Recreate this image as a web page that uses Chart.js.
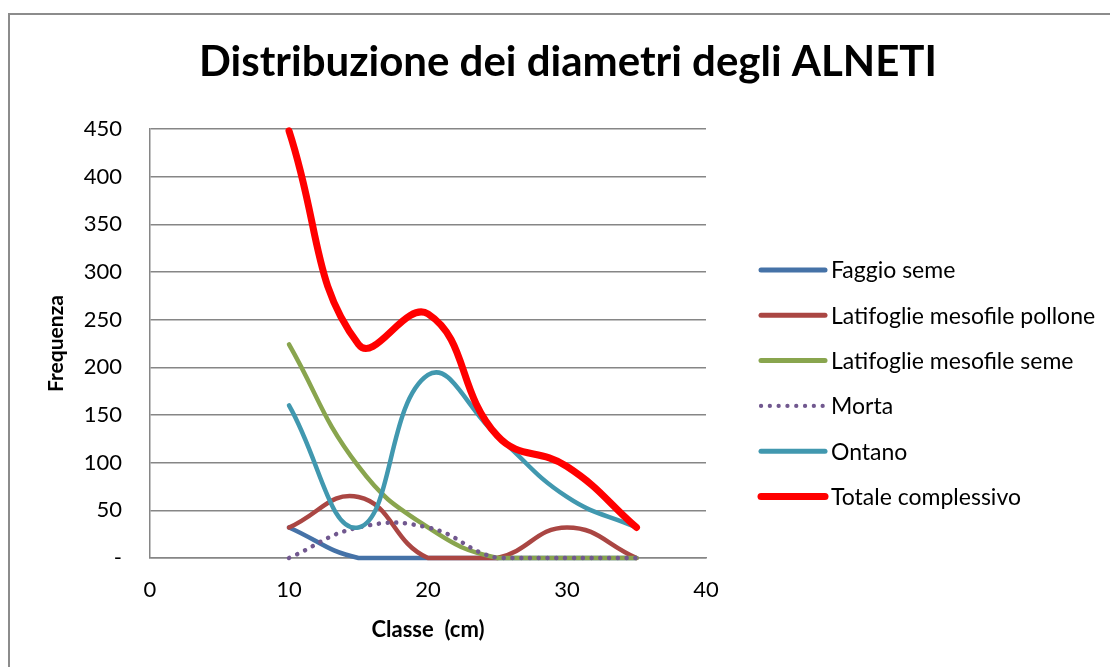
<!DOCTYPE html>
<html>
<head>
<meta charset="utf-8">
<script src="https://cdn.jsdelivr.net/npm/chart.js@4.4.1/dist/chart.umd.min.js"></script>
<style>
  html, body { margin: 0; padding: 0; background: #fff; overflow: hidden; }
  #wrap { position: relative; width: 1110px; height: 667px; }
  #frame { position: absolute; left: 8px; top: 13px; width: 1200px; height: 800px; border: 2px solid #8c8c8c; box-sizing: border-box; }
  canvas { position: absolute; left: 0; top: 0; }
</style>
</head>
<body>
<div id="wrap">
  <div id="frame"></div>
  <canvas id="myChart" width="1110" height="667"></canvas>
</div>
<script>
// classi di diametro (cm)
const classi = [10, 15, 20, 25, 30, 35];

const faggioSeme = [32, 0, 0, 0, 0, 0];
const latPollone = [32, 64, 0, 0, 32, 0];
const latSeme = [224, 96, 32, 0, 0, 0];
const morta = [0, 32, 32, 0, 0, 0];
const ontano = [160, 32, 192, 128, 64, 32];
const totale = [448, 224, 256, 128, 96, 32];

const seriesNames = ["Faggio seme", "Latifoglie mesofile pollone", "Latifoglie mesofile seme", "Morta", "Ontano", "Totale complessivo"];
const yTicks = [0, 50, 100, 150, 200, 250, 300, 350, 400, 450];
const titolo = "Distribuzione dei diametri degli ALNETI";

const FONT = "Lato, 'Open Sans', sans-serif";

function pts(vals) {
  return vals.map((v, k) => ({ x: classi[k], y: v }));
}

function line(idx, vals, color, width, dash) {
  return {
    label: seriesNames[idx],
    data: pts(vals),
    borderColor: color,
    backgroundColor: color,
    borderWidth: width,
    borderDash: dash || [],
    borderCapStyle: "round",
    borderJoinStyle: "round",
    pointRadius: 0,
    tension: 0.45,
    fill: false,
    clip: 10,
    order: 6 - idx
  };
}

// titolo e legenda disegnati come in Excel
const legendaExcel = {
  id: "legendaExcel",
  afterDraw(chart) {
    const ctx = chart.ctx;
    ctx.save();
    ctx.fillStyle = "#000";
    ctx.font = "bold 42px " + FONT;
    ctx.textAlign = "center";
    ctx.textBaseline = "middle";
    ctx.fillText(titolo, 568, 62);

    chart.data.datasets.forEach((ds, i) => {
      const y = 270 + i * 45.3;
      ctx.beginPath();
      ctx.strokeStyle = ds.borderColor;
      ctx.lineWidth = i == 5 ? 7 : (i == 3 ? 4.2 : 5);
      ctx.lineCap = "round";
      ctx.setLineDash(i == 3 ? [0.1, 8.7] : []);
      ctx.moveTo(761, y);
      ctx.lineTo(825, y);
      ctx.stroke();
      ctx.setLineDash([]);
      ctx.fillStyle = "#000";
      ctx.font = "23px " + FONT;
      ctx.textBaseline = "middle";
      ctx.textAlign = "left";
      ctx.fillText(ds.label, 831, y + 1);
    });
    ctx.restore();
  }
};

new Chart(document.getElementById("myChart"), {
  type: "line",
  data: {
    datasets: [
      line(0, faggioSeme, "#4572A7", 4.5),
      line(1, latPollone, "#AA4643", 4.5),
      line(2, latSeme, "#89A54E", 4.5),
      line(3, morta, "#71588F", 4.5, [0.1, 8.7]),
      line(4, ontano, "#4198AF", 4.5),
      line(5, totale, "#FF0000", 7)
    ]
  },
  plugins: [legendaExcel],
  options: {
    responsive: false,
    animation: false,
    layout: { padding: { left: 44, right: 404, top: 129, bottom: 20 } },
    plugins: {
      legend: { display: false },
      tooltip: { enabled: false },
      title: { display: false }
    },
    scales: {
      x: {
        type: "linear",
        min: 0,
        max: 40,
        ticks: { stepSize: 10, color: "#000", font: { family: FONT, size: 22 }, padding: 19 },
        grid: { display: false, drawTicks: false },
        border: { display: true, color: "#868686", width: 1.5 },
        title: { display: true, text: "Classe  (cm)", color: "#000", font: { family: FONT, size: 22, weight: "bold" }, padding: { top: 10, bottom: 4 } },
        afterFit(scale) { scale.height = 89; }
      },
      y: {
        min: 0,
        max: 450,
        afterBuildTicks(scale) { scale.ticks = yTicks.map(v => ({ value: v })); },
        ticks: {
          color: "#000",
          font: { family: FONT, size: 22 },
          padding: 28,
          callback: v => v == 0 ? "-" : v
        },
        grid: { color: "#868686", lineWidth: 1.5, drawTicks: false },
        border: { display: true, color: "#868686", width: 1.5 },
        title: { display: true, text: "Frequenza", color: "#000", font: { family: FONT, size: 21, weight: "bold" }, padding: 0 },
        afterFit(scale) { scale.width = 106; }
      }
    }
  }
});
</script>
</body>
</html>
